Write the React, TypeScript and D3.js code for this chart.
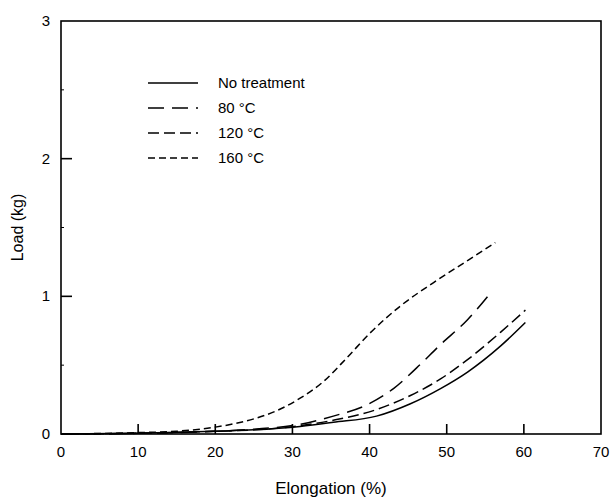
import { useEffect, useRef } from 'react';
import * as d3 from 'd3';

// Load vs elongation readings for each treatment
const noTreatmentX = [0, 10, 20, 25, 31, 35.3, 40.9, 45.3, 49.2, 52.7, 57, 60.2];
const noTreatmentY = [0, 0.005, 0.02, 0.03, 0.055, 0.085, 0.13, 0.22, 0.33, 0.45, 0.64, 0.81];
const t80X = [0, 10, 20, 25, 31, 35.3, 39.6, 43.1, 46.1, 49.2, 52.7, 55.9];
const t80Y = [0, 0.005, 0.02, 0.035, 0.07, 0.13, 0.21, 0.33, 0.48, 0.65, 0.83, 1.04];
const t120X = [0, 10, 20, 25, 31, 35.3, 40.5, 45.3, 49.2, 52.7, 57, 60.2];
const t120Y = [0, 0.005, 0.02, 0.03, 0.06, 0.1, 0.17, 0.28, 0.4, 0.54, 0.74, 0.9];
const t160X = [0, 10, 15, 20, 25, 28, 31, 34, 37, 40, 44, 48.3, 52.7, 56.3];
const t160Y = [0, 0.01, 0.02, 0.05, 0.11, 0.17, 0.26, 0.38, 0.55, 0.73, 0.93, 1.1, 1.26, 1.39];

const seriesNames = ['No treatment', '80 °C', '120 °C', '160 °C'];
const seriesDash = [null, '16,8', '11,5', '7,4'];

const xTicks = [0, 10, 20, 30, 40, 50, 60, 70];
const yTicks = [0, 1, 2, 3];
const yMinorTicks = [0.5, 1.5, 2.5];

export default function App() {
  const ref = useRef<SVGSVGElement>(null);

  useEffect(() => {
    const svg = d3.select(ref.current);
    svg.selectAll('*').remove();

    const left = 61, right = 601, top = 21, bottom = 434;
    const x = d3.scaleLinear().domain([0, 70]).range([left, right]);
    const y = d3.scaleLinear().domain([0, 3]).range([bottom, top]);

    const series = [
      d3.zip(noTreatmentX, noTreatmentY),
      d3.zip(t80X, t80Y),
      d3.zip(t120X, t120Y),
      d3.zip(t160X, t160Y),
    ];

    const font = 'Liberation Sans, Arial, sans-serif';

    // frame
    svg.append('rect')
      .attr('x', left).attr('y', top)
      .attr('width', right - left).attr('height', bottom - top)
      .attr('fill', 'none').attr('stroke', '#000').attr('stroke-width', 1.6);

    // x ticks (inside) and labels
    const g = svg.append('g');
    g.selectAll('.xt').data(xTicks.filter((d) => d > 0 && d < 70)).enter()
      .append('line')
      .attr('x1', (d) => x(d)).attr('x2', (d) => x(d))
      .attr('y1', bottom).attr('y2', bottom - 10)
      .attr('stroke', '#000').attr('stroke-width', 1.6);
    g.selectAll('.xl').data(xTicks).enter()
      .append('text')
      .attr('x', (d) => x(d)).attr('y', bottom + 23)
      .attr('text-anchor', 'middle')
      .style('font-family', font).style('font-size', '15px')
      .text((d) => d);

    // y ticks (inside) and labels
    g.selectAll('.yt').data(yTicks.filter((d) => d > 0 && d < 3)).enter()
      .append('line')
      .attr('x1', left).attr('x2', left + 11)
      .attr('y1', (d) => y(d)).attr('y2', (d) => y(d))
      .attr('stroke', '#000').attr('stroke-width', 1.6);
    g.selectAll('.ym').data(yMinorTicks).enter()
      .append('line')
      .attr('x1', left).attr('x2', left + 3)
      .attr('y1', (d) => y(d)).attr('y2', (d) => y(d))
      .attr('stroke', '#000').attr('stroke-width', 1);
    g.selectAll('.yl').data(yTicks).enter()
      .append('text')
      .attr('x', left - 11).attr('y', (d) => y(d) + 5)
      .attr('text-anchor', 'end')
      .style('font-family', font).style('font-size', '15px')
      .text((d) => d);

    // axis titles
    svg.append('text')
      .attr('x', (left + right) / 2).attr('y', 494)
      .attr('text-anchor', 'middle')
      .style('font-family', font).style('font-size', '17px')
      .text('Elongation (%)');
    svg.append('text')
      .attr('transform', `translate(23,${(top + bottom) / 2}) rotate(-90)`)
      .attr('text-anchor', 'middle')
      .style('font-family', font).style('font-size', '16px')
      .text('Load (kg)');

    // curves
    const line = d3.line<[number, number]>()
      .x((d) => x(d[0]))
      .y((d) => y(d[1]))
      .curve(d3.curveMonotoneX);

    series.forEach((s, i) => {
      svg.append('path')
        .datum(s as [number, number][])
        .attr('d', line)
        .attr('fill', 'none')
        .attr('stroke', '#000')
        .attr('stroke-width', 1.5)
        .attr('stroke-dasharray', seriesDash[i]);
    });

    // legend
    const legend = svg.append('g');
    seriesNames.forEach((name, i) => {
      const ly = 83 + i * 25;
      legend.append('line')
        .attr('x1', 148).attr('x2', 198)
        .attr('y1', ly).attr('y2', ly)
        .attr('stroke', '#000').attr('stroke-width', 1.5)
        .attr('stroke-dasharray', seriesDash[i]);
      legend.append('text')
        .attr('x', 218).attr('y', ly + 5)
        .style('font-family', font).style('font-size', '15px')
        .text(name);
    });
  }, []);

  return (
    <svg ref={ref} width={614} height={498}
      style={{ position: 'absolute', left: 0, top: 0, background: '#fff' }} />
  );
}
